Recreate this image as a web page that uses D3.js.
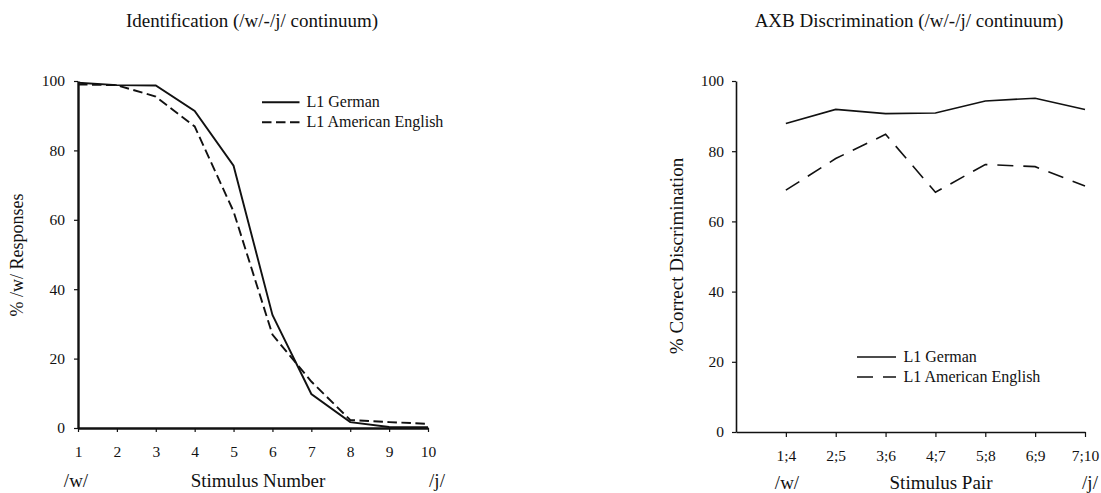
<!DOCTYPE html>
<html>
<head>
<meta charset="utf-8">
<script src="https://cdn.jsdelivr.net/npm/d3@7"></script>
<style>
  html, body { margin: 0; padding: 0; background: #fff; }
  svg { display: block; }
  text { font-family: "Liberation Serif", "Times New Roman", Times, serif; fill: #111; }
</style>
</head>
<body>
<svg id="chart" width="1101" height="493"></svg>
<script>
// Identification: % /w/ responses per stimulus step
const stimulusSteps = [1, 2, 3, 4, 5, 6, 7, 8, 9, 10];
const idGerman  = [99.5, 98.8, 98.7, 91.4, 75.6, 32.6, 9.8, 1.7, 0.3, 0.2];
const idEnglish = [99.0, 98.8, 95.5, 86.9, 62.4, 26.9, 13.4, 2.3, 1.7, 1.2];

// AXB discrimination: % correct per stimulus pair
const stimulusPairs = ["1;4", "2;5", "3;6", "4;7", "5;8", "6;9", "7;10"];
const axbGerman  = [87.9, 91.9, 90.7, 90.9, 94.3, 95.1, 91.9];
const axbEnglish = [68.9, 77.9, 84.8, 68.3, 76.2, 75.6, 70.1];

const yTicks = [0, 20, 40, 60, 80, 100];
const groupNames = ["L1 German", "L1 American English"];

const svg = d3.select("#chart");

// ---------- Left panel: identification ----------
const xL = d3.scaleLinear().domain([1, 10]).range([78, 428]);
const yL = d3.scaleLinear().domain([0, 100]).range([428, 81]);

const left = svg.append("g");

left.append("text").attr("x", 252).attr("y", 27).attr("text-anchor", "middle")
  .style("font-size", "19px").text("Identification (/w/-/j/ continuum)");

const lxAxis = left.append("g").attr("transform", `translate(0,${yL(0)})`)
  .call(d3.axisBottom(xL).tickValues(stimulusSteps).tickFormat(d3.format("d"))
    .tickSize(4).tickSizeOuter(0));
lxAxis.attr("font-family", null);
lxAxis.select(".domain").attr("stroke", "#111").attr("stroke-width", 2.4);
lxAxis.selectAll(".tick line").attr("stroke", "#111").attr("stroke-width", 1.2);
lxAxis.selectAll(".tick text").attr("y", 29).attr("dy", 0).style("font-size", "15.5px");

const lyAxis = left.append("g").attr("transform", `translate(${xL(1)},0)`)
  .call(d3.axisLeft(yL).tickValues(yTicks).tickSize(4).tickPadding(9).tickSizeOuter(0));
lyAxis.attr("font-family", null);
lyAxis.select(".domain").attr("stroke", "#111").attr("stroke-width", 2.4);
lyAxis.selectAll(".tick line").attr("stroke", "#111").attr("stroke-width", 1.2);
lyAxis.selectAll(".tick text").style("font-size", "15.5px");

const lineL = d3.line().x((d, i) => xL(stimulusSteps[i])).y(d => yL(d));
left.append("path").datum(idGerman).attr("d", lineL)
  .attr("fill", "none").attr("stroke", "#111").attr("stroke-width", 1.9);
left.append("path").datum(idEnglish).attr("d", lineL)
  .attr("fill", "none").attr("stroke", "#111").attr("stroke-width", 1.9)
  .attr("stroke-dasharray", "9.5,4.5");

// legend
const legL = left.append("g");
[[102.3, null], [122.3, "9.5,4.5"]].forEach(([y, dash], i) => {
  legL.append("line").attr("x1", 262).attr("x2", 299.5).attr("y1", y).attr("y2", y)
    .attr("stroke", "#111").attr("stroke-width", 1.9).attr("stroke-dasharray", dash);
  legL.append("text").attr("x", 306.5).attr("y", y + 4.5)
    .style("font-size", "16px").text(groupNames[i]);
});

// axis labels
left.append("text").attr("transform", "translate(23,255) rotate(-90)")
  .attr("text-anchor", "middle").style("font-size", "18px").text("% /w/ Responses");
left.append("text").attr("x", 76).attr("y", 487).attr("text-anchor", "middle")
  .style("font-size", "19px").text("/w/");
left.append("text").attr("x", 258).attr("y", 487).attr("text-anchor", "middle")
  .style("font-size", "19px").text("Stimulus Number");
left.append("text").attr("x", 437).attr("y", 487).attr("text-anchor", "middle")
  .style("font-size", "19px").text("/j/");

// ---------- Right panel: AXB discrimination ----------
const xR = d3.scaleLinear().domain([0, stimulusPairs.length]).range([736, 1085]);
const yR = d3.scaleLinear().domain([0, 100]).range([432, 81]);
const pairPos = stimulusPairs.map((p, i) => i + 1);

const right = svg.append("g");

right.append("text").attr("x", 909).attr("y", 27).attr("text-anchor", "middle")
  .style("font-size", "19px").text("AXB Discrimination (/w/-/j/ continuum)");

const rxAxis = right.append("g").attr("transform", `translate(0,${yR(0)})`)
  .call(d3.axisBottom(xR).tickValues(pairPos).tickFormat(d => stimulusPairs[d - 1])
    .tickSize(5).tickSizeOuter(0));
rxAxis.attr("font-family", null);
rxAxis.select(".domain").attr("stroke", "#111").attr("stroke-width", 1.6);
rxAxis.selectAll(".tick line").attr("stroke", "#111").attr("stroke-width", 1.2);
rxAxis.selectAll(".tick text").attr("y", 29).attr("dy", 0).style("font-size", "15.5px");

const ryAxis = right.append("g").attr("transform", `translate(${xR(0)},0)`)
  .call(d3.axisLeft(yR).tickValues(yTicks).tickSize(4).tickPadding(8).tickSizeOuter(0));
ryAxis.attr("font-family", null);
ryAxis.select(".domain").attr("stroke", "#111").attr("stroke-width", 1.6);
ryAxis.selectAll(".tick line").attr("stroke", "#111").attr("stroke-width", 1.2);
ryAxis.selectAll(".tick text").style("font-size", "15.5px");

const lineR = d3.line().x((d, i) => xR(pairPos[i])).y(d => yR(d));
right.append("path").datum(axbGerman).attr("d", lineR)
  .attr("fill", "none").attr("stroke", "#111").attr("stroke-width", 1.6);
right.append("path").datum(axbEnglish).attr("d", lineR)
  .attr("fill", "none").attr("stroke", "#111").attr("stroke-width", 1.6)
  .attr("stroke-dasharray", "16,10");

const legR = right.append("g");
[[357, null], [377, "16,10"]].forEach(([y, dash], i) => {
  legR.append("line").attr("x1", 857).attr("x2", 896).attr("y1", y).attr("y2", y)
    .attr("stroke", "#111").attr("stroke-width", 1.6).attr("stroke-dasharray", dash);
  legR.append("text").attr("x", 903.5).attr("y", y + 4.5)
    .style("font-size", "16px").text(groupNames[i]);
});

right.append("text").attr("transform", "translate(683,256) rotate(-90)")
  .attr("text-anchor", "middle").style("font-size", "19px").text("% Correct Discrimination");
right.append("text").attr("x", 787).attr("y", 489).attr("text-anchor", "middle")
  .style("font-size", "19px").text("/w/");
right.append("text").attr("x", 941).attr("y", 489).attr("text-anchor", "middle")
  .style("font-size", "19px").text("Stimulus Pair");
right.append("text").attr("x", 1090).attr("y", 489).attr("text-anchor", "middle")
  .style("font-size", "19px").text("/j/");
</script>
</body>
</html>
